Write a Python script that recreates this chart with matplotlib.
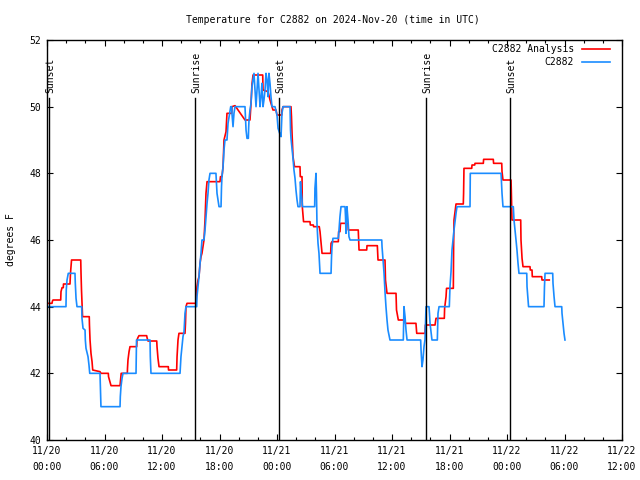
import matplotlib
matplotlib.use("Agg")
import matplotlib.pyplot as plt
from matplotlib.ticker import MultipleLocator

# ---- data (hours since 2024-11-20 00:00 UTC, degrees F) ----
analysis_hours = [0, 0.52, 0.57, 0.63, 1.43, 1.46, 1.57, 1.70, 1.72, 2.40, 2.45, 2.56, 3.52, 3.55, 3.60,
                  3.65, 3.71, 4.41, 4.43, 4.49, 4.59, 4.70, 4.77, 5.53, 5.63, 6.40, 6.42, 6.57, 6.68, 7.62,
                  7.67, 7.74, 8.38, 8.40, 8.45, 8.56, 8.66, 9.36, 9.39, 9.50, 9.60, 10.40, 10.44, 10.54,
                  11.45, 11.48, 11.58, 11.69, 12.66, 12.68, 13.53, 13.57, 13.67, 13.77, 14.40, 14.45,
                  14.50, 14.61, 15.55, 15.65, 15.76, 15.86, 15.97, 16.07, 16.17, 16.28, 16.38, 16.49,
                  16.59, 16.70, 18.05, 18.10, 18.26, 18.37, 18.47, 18.68, 18.78, 19.27, 19.30, 19.62,
                  20.66, 21.18, 21.29, 21.39, 21.50, 22.51, 22.54, 23.07, 23.27, 23.58, 23.90, 24.00,
                  24.49, 24.52, 24.63, 25.46, 25.51, 25.57, 25.67, 25.83, 26.40, 26.43, 26.61, 26.64,
                  26.77, 27.44, 27.48, 27.79, 27.82, 28.41, 28.49, 28.59, 28.70, 29.60, 29.64, 29.74,
                  30.40, 30.43, 30.57, 30.63, 31.41, 31.44, 32.48, 32.56, 33.36, 33.39, 34.47, 34.54,
                  35.27, 35.32, 35.48, 36.42, 36.47, 36.66, 37.36, 37.39, 38.50, 38.58, 39.44, 39.48,
                  40.49, 40.54, 40.59, 41.46, 41.49, 41.64, 41.69, 42.40, 42.43, 42.47, 42.68, 43.44,
                  43.47, 43.51, 44.32, 44.35, 44.63, 44.66, 45.53, 45.56, 46.57, 46.60, 47.45, 47.48,
                  47.58, 48.42, 48.45, 48.52, 49.43, 49.46, 49.57, 49.67, 50.40, 50.43, 50.61, 50.64,
                  51.62, 51.65, 52.41]
analysis_temps = [44.1, 44.1, 44.17, 44.2, 44.2, 44.45, 44.57, 44.57, 44.68, 44.68, 45.0, 45.4, 45.4, 45.0, 44.5,
                  44.15, 43.7, 43.7, 43.45, 43.0, 42.6, 42.35, 42.1, 42.05, 42.0, 42.0, 41.9, 41.75, 41.63, 41.63,
                  41.8, 42.0, 42.0, 42.15, 42.4, 42.65, 42.8, 42.8, 43.0, 43.08, 43.13, 43.13, 43.07, 42.97,
                  42.97, 42.8, 42.45, 42.2, 42.2, 42.1, 42.1, 42.5, 43.0, 43.2, 43.2, 43.5,
                  44.0, 44.1, 44.1, 44.6, 44.8, 44.9, 45.3, 45.5, 45.6, 45.8, 46.0, 46.6,
                  47.4, 47.75, 47.75, 47.9, 47.9, 48.2, 49.0, 49.25, 49.8, 49.8, 50.0, 50.03,
                  49.6, 49.6, 50.1, 50.68, 50.95, 50.95, 50.5, 50.45, 50.2, 49.9, 49.9, 49.75,
                  49.75, 49.9, 50.0, 50.0, 49.7, 49.2, 48.5, 48.2, 48.2, 47.9, 47.9, 47.0,
                  46.55, 46.55, 46.45, 46.45, 46.4, 46.4, 46.25, 45.95, 45.6, 45.6, 45.9, 45.95,
                  45.95, 46.25, 46.25, 46.5, 46.5, 46.3, 46.3, 45.7, 45.7, 45.83, 45.83, 45.4,
                  45.4, 44.8, 44.4, 44.4, 43.9, 43.6, 43.6, 43.5, 43.5, 43.2, 43.2, 43.45,
                  43.45, 43.55, 43.65, 43.65, 43.95, 44.3, 44.55, 44.55, 45.8, 46.6, 47.08, 47.08,
                  47.4, 48.15, 48.15, 48.25, 48.25, 48.3, 48.3, 48.42, 48.42, 48.3, 48.3, 48.05,
                  47.8, 47.8, 47.5, 46.6, 46.6, 46.0, 45.45, 45.2, 45.2, 45.1, 45.1, 44.9,
                  44.9, 44.8, 44.8]

obs_hours = [0, 1.98, 2.01, 2.09, 2.22, 2.92, 2.95, 3.03, 3.13, 3.62, 3.65, 3.76, 3.97, 4.00, 4.07, 4.28,
             4.38, 4.46, 5.53, 5.56, 5.63, 7.62, 7.65, 7.72, 7.83, 7.93, 9.29, 9.34, 10.75, 10.78, 10.85,
             13.88, 13.93, 13.98, 14.09, 14.19, 14.30, 14.40, 14.50, 15.62, 15.65, 15.76, 15.86, 15.97,
             16.07, 16.17, 16.38, 16.49, 16.59, 16.70, 16.80, 16.90, 17.01, 17.63, 17.69, 17.74, 17.84,
             17.95, 18.16, 18.21, 18.26, 18.37, 18.47, 18.57, 18.78, 18.89, 19.06, 19.17, 19.27, 19.30,
             19.41, 19.51, 19.62, 20.66, 20.71, 20.77, 20.87, 21.01, 21.04, 21.08, 21.18, 21.29, 21.39,
             21.50, 21.60, 21.71, 21.81, 21.91, 22.02, 22.12, 22.23, 22.33, 22.43, 22.54, 22.64, 22.75,
             22.85, 22.96, 23.06, 23.16, 23.27, 23.37, 23.48, 23.79, 24.00, 24.11, 24.28, 24.42, 24.52,
             24.63, 25.36, 25.41, 25.46, 25.57, 25.67, 25.77, 25.88, 25.98, 26.09, 26.19, 26.40, 26.45,
             26.50, 26.61, 26.66, 27.93, 27.96, 28.07, 28.12, 28.17, 28.28, 28.38, 28.49, 29.64, 29.69,
             29.74, 29.84, 30.40, 30.47, 30.57, 30.68, 31.10, 31.15, 31.20, 31.30, 31.41, 31.51, 31.62,
             34.93, 34.96, 35.06, 35.17, 35.27, 35.37, 35.48, 35.58, 35.79, 37.18, 37.21, 37.25, 37.36,
             37.46, 37.57, 38.99, 39.03, 39.13, 39.23, 39.34, 39.44, 39.55, 39.86, 39.91, 39.97, 40.17,
             40.73, 40.76, 40.80, 40.91, 41.98, 42.01, 42.05, 42.16, 42.26, 42.36, 42.47, 42.68, 42.78,
             44.14, 44.17, 47.38, 47.43, 47.48, 47.58, 48.66, 48.73, 48.84, 48.94, 49.04, 49.15, 49.25,
             50.06, 50.09, 50.19, 50.25, 51.86, 51.91, 51.97, 52.77, 52.80, 52.91, 53.01, 53.71, 53.74,
             53.84, 53.95, 54.05]
obs_temps = [44.0, 44.0, 44.5, 44.8, 45.0, 45.0, 44.72, 44.25, 44.0, 44.0, 43.65, 43.35, 43.3, 43.0, 42.75, 42.5,
             42.25, 42.0, 42.0, 41.7, 41.0, 41.0, 41.3, 41.6, 41.85, 42.0, 42.0, 43.0, 43.0, 42.5, 42.0,
             42.0, 42.25, 42.5, 42.8, 43.1, 43.25, 43.8, 44.0, 44.0, 44.3, 44.6, 44.9, 45.3,
             45.6, 46.0, 46.0, 46.3, 46.7, 47.1, 47.4, 47.8, 48.0, 48.0, 47.7, 47.4, 47.2,
             47.0, 47.0, 47.6, 47.9, 48.2, 48.7, 49.0, 49.0, 49.5, 49.8, 50.0, 50.0, 49.8,
             49.4, 49.8, 50.0, 50.0, 49.7, 49.3, 49.05, 49.05, 49.35, 49.6, 49.9, 50.1, 50.6,
             50.8, 51.0, 50.5, 50.0, 50.5, 51.0, 50.5, 50.0, 50.3, 50.7, 50.0, 50.2, 50.5,
             51.0, 50.8, 50.3, 51.0, 50.7, 50.3, 50.0, 50.0, 49.75, 49.35, 49.2, 49.1, 49.8,
             50.0, 50.0, 49.3, 49.05, 48.75, 48.45, 48.1, 47.85, 47.5, 47.2, 47.0, 47.0, 47.75,
             47.5, 47.2, 47.0, 47.0, 47.55, 48.0, 47.4, 46.5, 45.9, 45.6, 45.0, 45.0, 45.5,
             45.8, 46.05, 46.05, 46.3, 46.7, 47.0, 47.0, 46.7, 46.2, 47.0, 46.6, 46.1, 46.0,
             46.0, 45.8, 45.4, 45.0, 44.45, 44.0, 43.6, 43.3, 43.0, 43.0, 43.4, 44.0, 43.7,
             43.3, 43.0, 43.0, 42.7, 42.2, 42.4, 42.8, 43.0, 44.0, 44.0, 43.8, 43.5, 43.0,
             43.0, 43.4, 43.8, 44.0, 44.0, 44.3, 44.6, 45.05, 45.7, 46.0, 46.3, 46.8, 47.0,
             47.0, 48.0, 48.0, 47.7, 47.4, 47.0, 47.0, 46.6, 46.3, 46.0, 45.7, 45.3, 45.0,
             45.0, 44.6, 44.2, 44.0, 44.0, 44.6, 45.0, 45.0, 44.7, 44.3, 44.0, 44.0, 43.8,
             43.5, 43.2, 43.0]

sun_hours = [0.24, 15.44, 24.21, 39.55, 48.31]
sun_labels = ["Sunset", "Sunrise", "Sunset", "Sunrise", "Sunset"]

xtick_hours = [0, 6, 12, 18, 24, 30, 36, 42, 48, 54, 60]
xtick_labels = ["11/20\n00:00", "11/20\n06:00", "11/20\n12:00", "11/20\n18:00",
                "11/21\n00:00", "11/21\n06:00", "11/21\n12:00", "11/21\n18:00",
                "11/22\n00:00", "11/22\n06:00", "11/22\n12:00"]

title = "Temperature for C2882 on 2024-Nov-20 (time in UTC)"

FONT = "DejaVu Sans Mono"
FS = 7

fig = plt.figure(figsize=(6.4, 4.8), dpi=100)
ax = fig.add_axes([47 / 640, 40 / 480, 575 / 640, 400 / 480])

ax.plot(analysis_hours, analysis_temps, color="#ff0000", lw=1.2, label="C2882 Analysis")
ax.plot(obs_hours, obs_temps, color="#1a8cff", lw=1.2, label="C2882")

for h, lab in zip(sun_hours, sun_labels):
    ax.plot([h, h], [40, 50.27], color="black", lw=1.0)
    ax.text(h + 0.15, 50.42, lab, rotation=90, ha="center", va="bottom",
            fontsize=FS, family=FONT)

ax.set_xlim(0, 60)
ax.set_ylim(40, 52)
ax.set_xticks(xtick_hours)
ax.set_xticklabels(xtick_labels, fontsize=FS, family=FONT, linespacing=1.75)
ax.xaxis.set_minor_locator(MultipleLocator(2))
ax.set_yticks([40, 42, 44, 46, 48, 50, 52])
ax.set_yticklabels(["40", "42", "44", "46", "48", "50", "52"], fontsize=FS, family=FONT)
ax.tick_params(axis="both", which="major", direction="in", length=4.5, width=0.8,
               top=True, right=True, pad=4)
ax.tick_params(axis="x", which="minor", direction="in", length=2.2, width=0.8, top=True)
for s in ax.spines.values():
    s.set_linewidth(1.0)

fig.text(11 / 640, 0.5, "degrees F", rotation=90, ha="center", va="center",
         fontsize=FS, family=FONT)
fig.text(333 / 640, 1 - 20 / 480, title, ha="center", va="center", fontsize=FS, family=FONT)

leg = ax.legend(loc="upper right", bbox_to_anchor=(0.979, 0.99), markerfirst=False,
                frameon=False, prop={"family": FONT, "size": FS},
                handlelength=2.9, handletextpad=0.8, labelspacing=0.35,
                borderpad=0, borderaxespad=0)
for t in leg.get_texts():
    t.set_ha("right")

fig.savefig("out.png", dpi=100)
